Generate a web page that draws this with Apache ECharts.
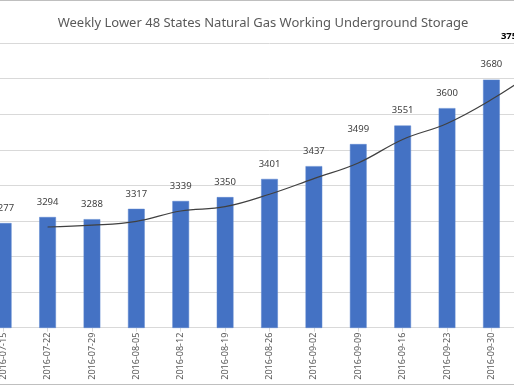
<!DOCTYPE html>
<html>
<head>
<meta charset="utf-8">
<script src="https://cdn.jsdelivr.net/npm/echarts@6/dist/echarts.min.js"></script>
<style>
html,body{margin:0;padding:0;background:#fff;overflow:hidden;width:514px;height:386px;position:relative;}
#chart{width:577px;height:386px;position:absolute;left:-19px;top:0;}
</style>
</head>
<body>
<div id="chart"></div>
<script>
const titleText = 'Weekly Lower 48 States Natural Gas Working Underground Storage';
const categories = ['2016-07-15','2016-07-22','2016-07-29','2016-08-05','2016-08-12','2016-08-19','2016-08-26','2016-09-02','2016-09-09','2016-09-16','2016-09-23','2016-09-30','2016-10-07'];
const storage = [3277, 3294, 3288, 3317, 3339, 3350, 3401, 3437, 3499, 3551, 3600, 3680, 3759];
const trend = [null, 3266, 3271, 3282, 3311, 3323, 3358, 3402, 3446, 3512, 3557, 3624, 3705];

const FONT = '"Noto Sans", "Open Sans", sans-serif';
const OFF = 19; // chart div is shifted left by this many px
const chart = echarts.init(document.getElementById('chart'));
const barData = storage.map((v, i) => {
  if (i === storage.length - 1) {
    return { value: v, label: { fontWeight: 'bold', color: '#000', offset: [-24, 0] } };
  }
  return v;
});
chart.setOption({
  backgroundColor: '#fff',
  animation: false,
  title: {
    text: titleText,
    left: 258 + OFF, top: 12, textAlign: 'center',
    textStyle: { fontFamily: FONT, fontSize: 13, fontWeight: 'normal', color: '#595959' }
  },
  graphic: [
    { type: 'rect', shape: { x: 0, y: 0, width: 577, height: 1 }, style: { fill: '#BFBFBF' } },
    { type: 'rect', shape: { x: 0, y: 384, width: 577, height: 1 }, style: { fill: '#BFBFBF' } }
  ],
  grid: { left: 0, right: 0, top: 43, bottom: 58.3, containLabel: false },
  xAxis: {
    type: 'category',
    data: categories,
    axisLine: { show: true, lineStyle: { color: '#D9D9D9' } },
    axisTick: { show: true, alignWithLabel: true, length: 4, lineStyle: { color: '#D9D9D9' } },
    axisLabel: { rotate: 90, margin: 5, fontFamily: FONT, fontSize: 9, color: '#595959', interval: 0 }
  },
  yAxis: {
    type: 'value',
    min: 2983, max: 3783, interval: 100,
    axisLine: { show: false }, axisTick: { show: false }, axisLabel: { show: false },
    splitLine: { lineStyle: { color: '#D9D9D9', width: 1 } }
  },
  series: [
    {
      type: 'bar',
      data: barData,
      barWidth: 16.7,
      itemStyle: { color: '#4472C4', borderColor: '#5B84CE', borderWidth: 0.5 },
      label: { show: true, position: 'top', distance: 10, fontFamily: FONT, fontSize: 9.5, color: '#404040' }
    },
    {
      type: 'line',
      data: trend,
      smooth: 0.4,
      symbol: 'none',
      lineStyle: { color: '#404040', width: 1.2 },
      z: 5
    }
  ]
});
</script>
</body>
</html>
